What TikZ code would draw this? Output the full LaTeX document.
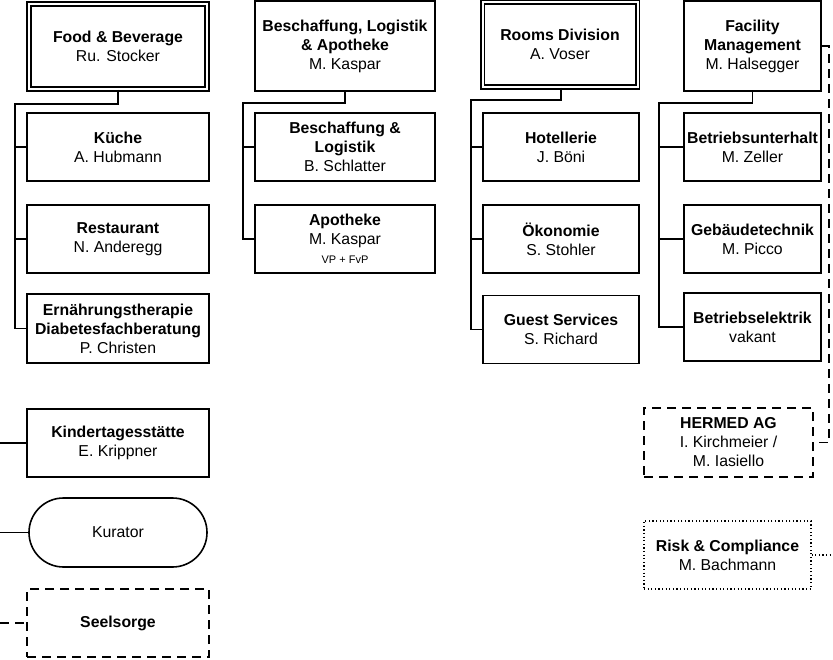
\documentclass[tikz,border=0pt]{standalone}
\usepackage{fontspec}
\setmainfont{Liberation Sans}
\usetikzlibrary{shapes.misc}
\begin{document}
\begin{tikzpicture}[x=1pt, y=-1pt,
					every node/.style={font=\fontsize{15.8}{19}\selectfont, align=center, inner xsep=2pt, inner ysep=1pt},
					unit/.style={draw, rectangle, line width=1.6pt, minimum height=68pt},
					lead/.style={draw, rectangle, double, line width=1.6pt, double distance=2pt, minimum height=85pt},
					extern/.style={unit, dash pattern=on 9pt off 6pt},
					advisory/.style={unit, line width=1.3pt, dash pattern=on 1.2pt off 2.4pt},
					kuratorium/.style={draw, rounded rectangle, line width=1.6pt, minimum height=69pt},
					link/.style={draw, line width=1.6pt},
					small/.style={font=\fontsize{11}{13}\selectfont}]
					\useasboundingbox (0,0) rectangle (833,660);
					% Food & Beverage
					\node[lead, minimum width=178pt] (fb) at (118,46.5) {\textbf{Food \& Beverage}\\Ru. Stocker};
					\node[unit, minimum width=182pt] (kueche) at (118,147) {\textbf{Küche}\\A. Hubmann};
					\node[unit, minimum width=182pt] (restaurant) at (118,239) {\textbf{Restaurant}\\N. Anderegg};
					\node[unit, minimum width=182pt, minimum height=69pt] (ernaehrung) at (118,328.5) {\textbf{Ernährungstherapie}\\\textbf{Diabetesfachberatung}\\P. Christen};
					% Beschaffung
					\node[unit, minimum width=180pt, minimum height=90pt] (bla) at (345,46) {\textbf{Beschaffung, Logistik}\\\textbf{\& Apotheke}\\M. Kaspar};
					\node[unit, minimum width=180pt] (beschlog) at (345,147) {\textbf{Beschaffung \&}\\\textbf{Logistik}\\B. Schlatter};
					\node[unit, minimum width=180pt] (apotheke) at (345,239) {\textbf{Apotheke}\\M. Kaspar\\{\fontsize{11}{13}\selectfont VP + FvP}};
					% Rooms Division
					\node[lead, minimum width=155pt] (rd) at (560,44.5) {\textbf{Rooms Division}\\A. Voser};
					\node[unit, minimum width=156pt] (hotellerie) at (561,147) {\textbf{Hotellerie}\\J. Böni};
					\node[unit, minimum width=156pt] (oekonomie) at (561,239) {\textbf{Ökonomie}\\S. Stohler};
					\node[unit, minimum width=156pt] (guest) at (561,329.5) {\textbf{Guest Services}\\S. Richard};
					% Facility Management
					\node[unit, minimum width=137pt, minimum height=90pt] (fm) at (752.5,46) {\textbf{Facility}\\\textbf{Management}\\M. Halsegger};
					\node[unit, minimum width=137pt] (unterhalt) at (752.5,147) {\textbf{Betriebsunterhalt}\\M. Zeller};
					\node[unit, minimum width=137pt] (gebaeude) at (752.5,239) {\textbf{Gebäudetechnik}\\M. Picco};
					\node[unit, minimum width=137pt] (elektrik) at (752.5,327) {\textbf{Betriebselektrik}\\vakant};
					% Stabsstellen
					\node[unit, minimum width=182pt] (kita) at (118,443) {\textbf{Kindertagesstätte}\\E. Krippner};
					\node[kuratorium, minimum width=182pt] (kurator) at (118,532.5) {Kurator};
					\node[extern, minimum width=182pt] (seelsorge) at (118,623) {\textbf{Seelsorge}};
					\node[extern, minimum width=169pt, minimum height=69pt] (hermed) at (728.5,442.5) {\textbf{HERMED AG}\\I. Kirchmeier /\\M. Iasiello};
					\node[advisory, minimum width=167pt] (risk) at (727.5,555) {\textbf{Risk \& Compliance}\\M. Bachmann};
					% Verbindungen
					\coordinate (fbbus) at (15,104);
					\coordinate (blabus) at (243,103);
					\coordinate (rdbus) at (471,100);
					\coordinate (fmbus) at (659,103);
					\coordinate (hermedbus) at (829,200);
					\coordinate (kitain) at (0,443);
					\coordinate (kuratorin) at (0,532.5);
					\coordinate (seelsorgein) at (0,623);
					\coordinate (riskout) at (833,555);
					\path[link] (fb.south) |- (fbbus) |- (ernaehrung.west);
					\path[link] (fbbus) |- (kueche.west);
					\path[link] (fbbus) |- (restaurant.west);
					\path[link] (bla.south) |- (blabus) |- (apotheke.west);
					\path[link] (blabus) |- (beschlog.west);
					\path[link] (rd.south -| hotellerie.north) |- (rdbus) |- (guest.west);
					\path[link] (rdbus) |- (hotellerie.west);
					\path[link] (rdbus) |- (oekonomie.west);
					\path[link] (fm.south) |- (fmbus) |- (elektrik.west);
					\path[link] (fmbus) |- (unterhalt.west);
					\path[link] (fmbus) |- (gebaeude.west);
					\path[link, dash pattern=on 9pt off 6pt] (fm.east) -| (hermedbus) |- (hermed.east);
					\path[link] (kitain) -- (kita.west);
					\path[link] (kuratorin) -- (kurator.west);
					\path[link, dash pattern=on 9pt off 6pt] (seelsorgein) -- (seelsorge.west);
					\path[link, line width=1.3pt, dash pattern=on 1.2pt off 2.4pt] (risk.east) -- (riskout);
				\end{tikzpicture}
\end{document}
